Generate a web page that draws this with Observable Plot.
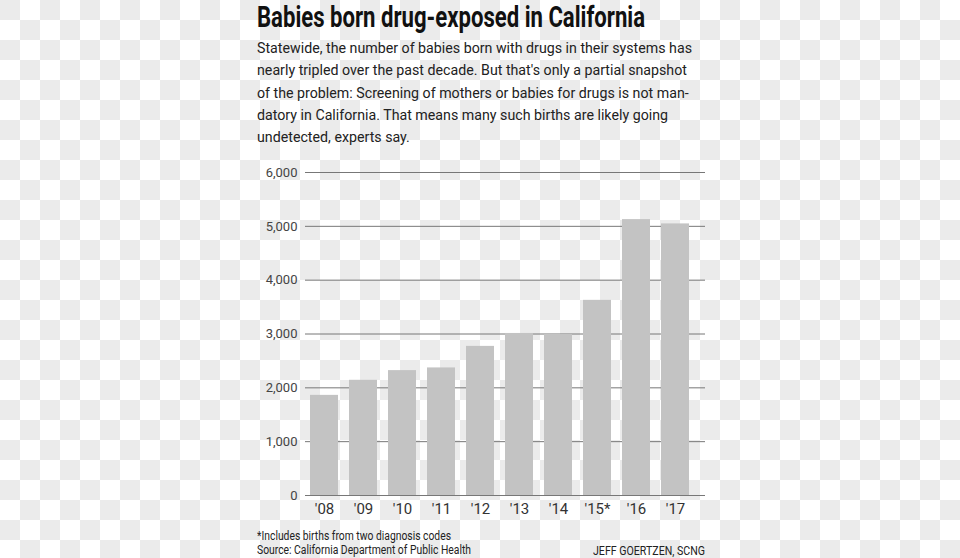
<!DOCTYPE html>
<html>
<head>
<meta charset="utf-8">
<script src="https://cdn.jsdelivr.net/npm/d3@7"></script>
<script src="https://cdn.jsdelivr.net/npm/@observablehq/plot@0.6"></script>
<style>
  html, body { margin: 0; padding: 0; }
  body {
    width: 960px; height: 558px; position: relative; overflow: hidden;
    font-family: Roboto, "Noto Sans", sans-serif;
    background-color: #ffffff;
    background-image:
      linear-gradient(45deg, #ebebeb 25%, transparent 25%, transparent 75%, #ebebeb 75%),
      linear-gradient(45deg, #ebebeb 25%, transparent 25%, transparent 75%, #ebebeb 75%);
    background-size: 40px 40px;
    background-position: 20px 0, 0 20px;
  }
  .fit { position: absolute; white-space: nowrap; transform-origin: 0 0; display: inline-block; }
  #title { left: 257px; top: 1.6px; font-size: 30px; line-height: 30px; font-weight: 700; color: #111; }
  .sub { left: 257px; font-size: 15px; line-height: 22.3px; color: #222; }
  .foot { font-size: 12px; line-height: 14px; color: #222; }
  #chart { position: absolute; left: 0; top: 160px; }
</style>
</head>
<body>
<div id="title" class="fit">Babies born drug-exposed in California</div>
<div class="fit sub" style="top:37px">Statewide, the number of babies born with drugs in their systems has</div>
<div class="fit sub" style="top:59.3px">nearly tripled over the past decade. But that's only a partial snapshot</div>
<div class="fit sub" style="top:81.6px">of the problem: Screening of mothers or babies for drugs is not man-</div>
<div class="fit sub" style="top:103.9px">datory in California. That means many such births are likely going</div>
<div class="fit sub" style="top:126.2px">undetected, experts say.</div>
<div id="chart"></div>
<div id="f1" class="fit foot" style="left:257px; top:529px">*Includes births from two diagnosis codes</div>
<div id="f2" class="fit foot" style="left:257px; top:543px">Source: California Department of Public Health</div>
<div id="f3" class="fit foot" style="left:593px; top:544px">JEFF GOERTZEN, SCNG</div>
<script>
const years = ["'08", "'09", "'10", "'11", "'12", "'13", "'14", "'15*", "'16", "'17"];
const births = [1860, 2140, 2320, 2370, 2770, 3010, 2990, 3625, 5125, 5045];
const yTicks = [0, 1000, 2000, 3000, 4000, 5000, 6000];

const data = years.map((year, i) => ({year, births: births[i]}));

const chart = Plot.plot({
  width: 960,
  height: 365,
  marginTop: 12,
  marginBottom: 30,
  marginLeft: 305,
  marginRight: 255,
  style: {fontFamily: "Roboto, sans-serif", background: "transparent", color: "#333"},
  x: {domain: years, paddingInner: 0.28, paddingOuter: 0.196, align: 0.26, label: null},
  y: {domain: [0, 6000], label: null},
  marks: [
    Plot.ruleY(yTicks, {stroke: "#777", strokeWidth: 1}),
    Plot.barY(data, {x: "year", y: "births", fill: "#c3c3c3"}),
    Plot.axisY(yTicks, {tickSize: 0, tickPadding: 8, fontSize: 13, fill: "#444", tickFormat: d3.format(","), label: null}),
    Plot.axisX({tickSize: 0, tickPadding: 8, fontSize: 15, fill: "#333", label: null})
  ]
});
document.getElementById("chart").appendChild(chart);

function fit(el, w) {
  const cur = el.getBoundingClientRect().width;
  if (cur > 0) el.style.transform = `scaleX(${w / cur})`;
}
fit(document.getElementById("title"), 388);
const subs = document.querySelectorAll(".sub");
const s = 435 / subs[0].getBoundingClientRect().width;
subs.forEach(el => el.style.transform = `scaleX(${s})`);
fit(document.getElementById("f1"), 194);
fit(document.getElementById("f2"), 214);
fit(document.getElementById("f3"), 112);
</script>
</body>
</html>
